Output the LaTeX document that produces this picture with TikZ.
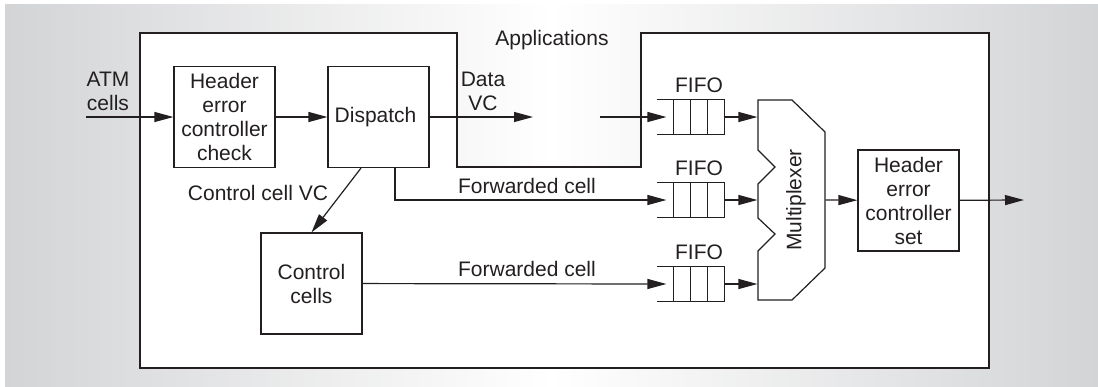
\documentclass[tikz,border=0pt]{standalone}
\usepackage{fontspec}
\setmainfont{Liberation Sans}
\usetikzlibrary{arrows.meta,positioning,calc}
\definecolor{bggray}{RGB}{211,212,214}
\definecolor{ink}{RGB}{35,31,32}

\begin{document}
\begin{tikzpicture}[
    x=1pt,
    y=-1pt,
    >={Triangle[length=19pt,width=10pt]},
    line width=1.2pt,
    every node/.style={
        font=\fontsize{21}{24}\selectfont,
        text=ink
    },
    blk/.style={
        draw=ink,
        fill=white,
        minimum width=101pt,
        minimum height=101pt,
        align=center,
        inner sep=0pt
    },
    fifobox/.style={
        minimum width=50pt,
        minimum height=34pt,
        inner sep=0pt
    },
    lbl/.style={
        align=center,
        inner sep=0pt
    }
]

\useasboundingbox (0,0) rectangle (1098,386);
\fill[left color=bggray, right color=bggray, middle color=white] (5,4) rectangle (1098,386);

% outer frame with the applications notch
\draw[ink, fill=white] (140,33) -- (457,33) -- (457,167) -- (641,167)
    -- (641,33) -- (989,33) -- (989,368) -- (140,368) -- cycle;

\node[blk] (hecc) at (224.5,117) {
    Header\\error\\controller\\check
};

\node[blk] (dispatch) at (378.5,117) {
    Dispatch
};

\node[blk] (ctrl) at (311.5,283.5) {
    Control\\cells
};

\node[blk] (hecs) at (908.5,200.5) {
    Header\\error\\controller\\set
};

\node[fifobox] (fifo1) at (699,117) {};
\node[fifobox] (fifo2) at (699,200) {};
\node[fifobox] (fifo3) at (699,284) {};

\foreach \f in {fifo1,fifo2,fifo3}{
    \draw[ink] ([xshift=-16pt]\f.north west) -- (\f.north east);
    \draw[ink] ([xshift=-16pt]\f.south west) -- (\f.south east);
    \foreach \k in {0,1,2,3}
        \draw[ink] ($(\f.north west)!\k/3!(\f.north east)$)
            -- ($(\f.south west)!\k/3!(\f.south east)$);
    \node[lbl, above=6pt of \f] {FIFO};
}

% multiplexer
\node[minimum width=67pt, minimum height=200pt, inner sep=0pt] (mux) at (791.5,200) {};
\draw[ink, fill=white] (758,100) -- (792,100) -- (825,132) -- (825,268)
    -- (792,300) -- (758,300) -- (758,251) -- (775,234) -- (758,218)
    -- (758,184) -- (775,167) -- (758,150) -- cycle;
\node[lbl, rotate=90] at (796,200) {Multiplexer};

\coordinate (in) at (86,117);
\coordinate (dvca) at (533,117);
\coordinate (dvcb) at (600,117);
\coordinate (out) at (1024,200);

\node[lbl] at (108,91) {ATM\\cells};
\node[lbl] at (483,91) {Data\\VC};
\node[lbl] at (552,40) {Applications};
\node[lbl] at (258,193) {Control cell VC};
\node[lbl] at (527,186) {Forwarded cell};
\node[lbl] at (527,269) {Forwarded cell};

\draw[->,ink] (in) -- (hecc);
\draw[->,ink] (hecc) -- (dispatch);
\draw[->,ink] (dispatch) -- (dvca);
\draw[->,ink] (dvcb) -- ([xshift=-7pt]fifo1.west);
\draw[->,ink] ([xshift=-17.5pt]dispatch.south) -- (ctrl.north);
\draw[->,ink] ([xshift=16.5pt]dispatch.south) |- ([xshift=-7pt]fifo2.west);
\draw[->,ink] (ctrl) -- ([xshift=-7pt]fifo3.west);
\draw[->,ink] (fifo1.east) -- (fifo1.east -| mux.west);
\draw[->,ink] (fifo2.east) -- (fifo2.east -| mux.west);
\draw[->,ink] (fifo3.east) -- (fifo3.east -| mux.west);
\draw[->,ink] (mux.east) -- (hecs);
\draw[->,ink] (hecs) -- (out);

\end{tikzpicture}
\end{document}
